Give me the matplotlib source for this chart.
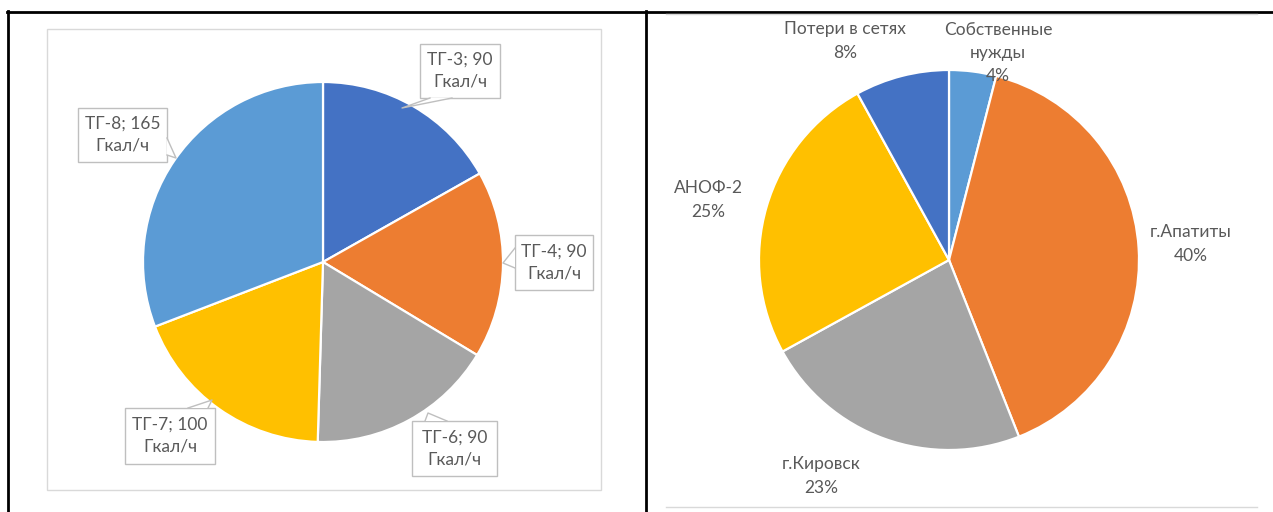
import matplotlib
matplotlib.use("Agg")
import matplotlib.pyplot as plt
from matplotlib.patches import Rectangle, Polygon
from matplotlib.lines import Line2D

plt.rcParams['font.family'] = ['Lato', 'DejaVu Sans']

# ---- data ----
left_labels = ["ТГ-3", "ТГ-4", "ТГ-6", "ТГ-7", "ТГ-8"]
left_values = [90, 90, 90, 100, 165]
left_unit = "Гкал/ч"
left_colors = ["#4472C4", "#ED7D31", "#A5A5A5", "#FFC000", "#5B9BD5"]

right_labels = ["Собственные\nнужды", "г.Апатиты", "г.Кировск", "АНОФ-2", "Потери в сетях"]
right_values = [4, 40, 23, 25, 8]
right_colors = ["#5B9BD5", "#ED7D31", "#A5A5A5", "#FFC000", "#4472C4"]

W, H = 1273, 512
fig = plt.figure(figsize=(W / 100, H / 100), dpi=100)
ax = fig.add_axes([0, 0, 1, 1])

def Y(py):
    return H - py

TXT = "#595959"
GRID = "#D9D9D9"
FS = 12.5

# ---- pies ----
ax.pie(left_values, colors=left_colors, startangle=90, counterclock=False,
       center=(323, Y(262)), radius=180,
       wedgeprops=dict(edgecolor="white", linewidth=1.6))
ax.pie(right_values, colors=right_colors, startangle=90, counterclock=False,
       center=(949, Y(260)), radius=190,
       wedgeprops=dict(edgecolor="white", linewidth=1.6))

ax.set_xlim(0, W)
ax.set_ylim(0, H)
ax.axis("off")

# ---- table frame ----
lwb = 2.0
ax.add_line(Line2D([7, W], [Y(11.5), Y(11.5)], color="black", lw=lwb))
ax.add_line(Line2D([7.5, 7.5], [Y(11), Y(H + 2)], color="black", lw=lwb))
ax.add_line(Line2D([646, 646], [Y(11), Y(H + 2)], color="black", lw=lwb))
# left chart area border
ax.add_patch(Rectangle((47, Y(490)), 554, 461, fill=False, edgecolor=GRID, lw=1))
# right chart area border (bottom visible)
ax.add_line(Line2D([666, 1257], [Y(507), Y(507)], color=GRID, lw=1))
ax.add_line(Line2D([666, 1257], [Y(13.5), Y(13.5)], color=GRID, lw=1))

# ---- left callouts ----
callouts = [
    ((420, 44, 500, 98), [(430, 98), (452, 98)], (402, 108)),
    ((515, 235, 593, 290), [(515, 248), (515, 268)], (503, 263)),
    ((412, 421, 497, 476), [(425, 421), (447, 421)], (428, 413)),
    ((125, 408, 215, 464), [(188, 408), (208, 408)], (212, 400)),
    ((78, 108, 167, 162), [(167, 138), (167, 155)], (176, 158)),
]
for (lab, val), (box, base, apex) in zip(zip(left_labels, left_values), callouts):
    x0, y0, x1, y1 = box
    ax.add_patch(Rectangle((x0, Y(y1)), x1 - x0, y1 - y0, facecolor="white",
                           edgecolor="#BFBFBF", lw=1, zorder=5))
    poly = [(base[0][0], Y(base[0][1])), (apex[0], Y(apex[1])), (base[1][0], Y(base[1][1]))]
    ax.add_patch(Polygon(poly, closed=True, facecolor="white", edgecolor="none", zorder=6))
    ax.add_line(Line2D([p[0] for p in poly], [p[1] for p in poly], color="#BFBFBF", lw=1, zorder=7))
    ax.text((x0 + x1) / 2, Y((y0 + y1) / 2), f"{lab}; {val}\n{left_unit}",
            ha="center", va="center", fontsize=FS, color=TXT, linespacing=1.45, zorder=8)

# ---- right labels ----
right_pos = [(998, 53), (1191, 244), (821, 476), (708, 200), (845, 41)]
for lab, val, (px, py) in zip(right_labels, right_values, right_pos):
    ax.text(px, Y(py), f"{lab}\n{val}%", ha="center", va="center", fontsize=FS,
            color=TXT, linespacing=1.55, zorder=8)

fig.savefig("out.png", dpi=100)
